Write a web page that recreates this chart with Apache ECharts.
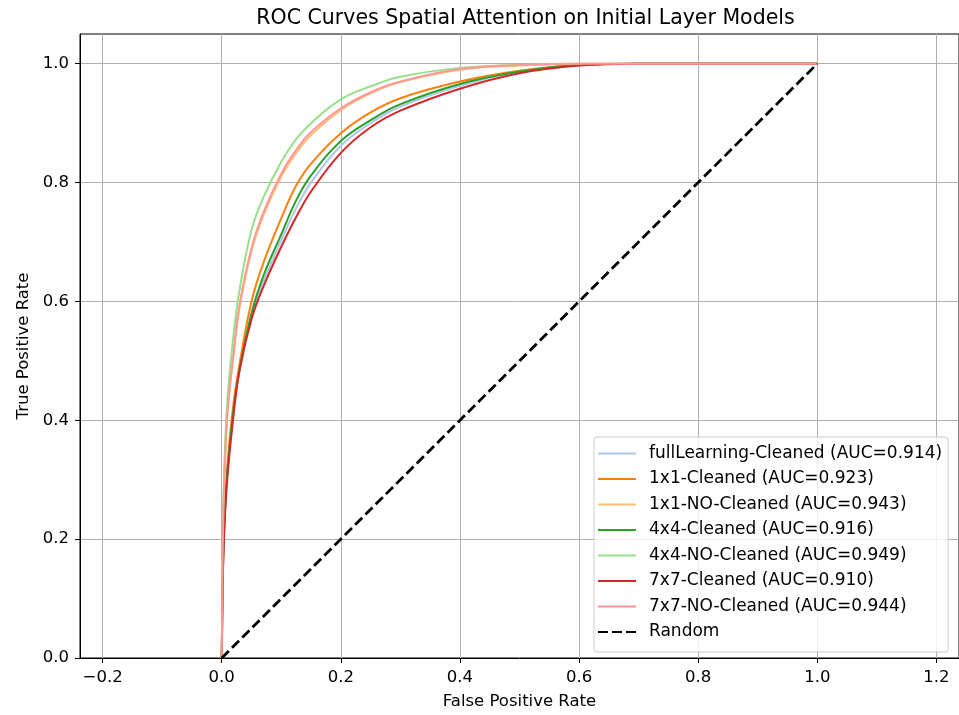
<!DOCTYPE html>
<html>
<head>
<meta charset="utf-8">
<script src="https://cdn.jsdelivr.net/npm/echarts@6/dist/echarts.min.js"></script>
<style>
html,body{margin:0;padding:0;background:#fff;}
#chart{width:959px;height:715px;}
</style>
</head>
<body>
<div id="chart"></div>
<script>
// ---- data ----
const chartTitle = 'ROC Curves Spatial Attention on Initial Layer Models';
const xTicks = [-0.2, 0.0, 0.2, 0.4, 0.6, 0.8, 1.0, 1.2];
const yTicks = [0.0, 0.2, 0.4, 0.6, 0.8, 1.0];
const fprPoints = [0, 0.002, 0.005, 0.01, 0.02, 0.03, 0.05, 0.07, 0.1, 0.125, 0.15, 0.2, 0.25, 0.3, 0.4, 0.5, 0.6, 0.7, 1.0];
const seriesNames = [
  'fullLearning-Cleaned (AUC=0.914)',
  '1x1-Cleaned (AUC=0.923)',
  '1x1-NO-Cleaned (AUC=0.943)',
  '4x4-Cleaned (AUC=0.916)',
  '4x4-NO-Cleaned (AUC=0.949)',
  '7x7-Cleaned (AUC=0.910)',
  '7x7-NO-Cleaned (AUC=0.944)'
];
const tprFullCleaned = [0, 0.15, 0.24, 0.32, 0.42, 0.485, 0.575, 0.633, 0.703, 0.757, 0.80, 0.862, 0.90, 0.928, 0.963, 0.987, 0.998, 1, 1];
const tpr1x1Cleaned  = [0, 0.16, 0.25, 0.33, 0.43, 0.495, 0.60, 0.665, 0.74, 0.795, 0.832, 0.883, 0.918, 0.942, 0.970, 0.988, 0.998, 1, 1];
const tpr1x1NoClean  = [0, 0.20, 0.315, 0.415, 0.51, 0.59, 0.685, 0.745, 0.81, 0.85, 0.88, 0.922, 0.95, 0.969, 0.990, 0.997, 1, 1, 1];
const tpr4x4Cleaned  = [0, 0.15, 0.24, 0.32, 0.42, 0.485, 0.58, 0.643, 0.713, 0.77, 0.812, 0.870, 0.905, 0.932, 0.966, 0.987, 0.998, 1, 1];
const tpr4x4NoClean  = [0, 0.22, 0.34, 0.44, 0.545, 0.62, 0.72, 0.775, 0.835, 0.873, 0.90, 0.940, 0.962, 0.978, 0.993, 0.998, 1, 1, 1];
const tpr7x7Cleaned  = [0, 0.14, 0.23, 0.31, 0.41, 0.485, 0.57, 0.625, 0.692, 0.742, 0.785, 0.850, 0.893, 0.921, 0.958, 0.984, 0.997, 1, 1];
const tpr7x7NoClean  = [0, 0.20, 0.32, 0.42, 0.515, 0.595, 0.69, 0.75, 0.815, 0.855, 0.885, 0.925, 0.952, 0.970, 0.991, 0.998, 1, 1, 1];
const randomName = 'Random';
const randomFpr = [0, 1];
const randomTpr = [0, 1];

const seriesColors = ['#aec7e8', '#ff7f0e', '#ffbb78', '#2ca02c', '#98df8a', '#d62728', '#ff9896'];
const tprLists = [tprFullCleaned, tpr1x1Cleaned, tpr1x1NoClean, tpr4x4Cleaned, tpr4x4NoClean, tpr7x7Cleaned, tpr7x7NoClean];

const FONT = 'DejaVu Sans';
const fmt = v => (v < 0 ? '\u2212' : '') + Math.abs(v).toFixed(1);
const SOLID_ICON = 'path://M0,0h38v2h-38z';
const DASH_ICON = 'path://M0,0h10v2h-10zM14,0h10v2h-10zM28,0h10v2h-10z';

const series = tprLists.map((tprs, i) => ({
  name: seriesNames[i],
  type: 'line',
  data: fprPoints.map((f, j) => [f, tprs[j]]),
  symbol: 'none',
  smooth: 0.4,
  lineStyle: { color: seriesColors[i], width: 2 },
  itemStyle: { color: seriesColors[i] },
  z: 3 + i
}));
series.push({
  name: randomName,
  type: 'line',
  data: randomFpr.map((f, j) => [f, randomTpr[j]]),
  symbol: 'none',
  lineStyle: { color: '#000', width: 2.8, type: [10, 4.5] },
  itemStyle: { color: '#000' },
  z: 20
});

const legendData = seriesNames.map(n => ({ name: n, icon: SOLID_ICON }))
  .concat([{ name: randomName, icon: DASH_ICON }]);

const chart = echarts.init(document.getElementById('chart'), null, { renderer: 'canvas' });
chart.setOption({
  animation: false,
  backgroundColor: '#fff',
  title: {
    text: chartTitle,
    left: 520.5,
    textAlign: 'center',
    top: 3,
    textStyle: { fontFamily: FONT, fontSize: 20.5, fontWeight: 'normal', color: '#000' }
  },
  grid: {
    left: 80, top: 34, right: -2, bottom: 54,
    show: true, borderColor: '#000', borderWidth: 1, backgroundColor: 'transparent'
  },
  legend: {
    orient: 'vertical',
    left: 594,
    top: 437,
    padding: [8, 6, 11.5, 4],
    itemWidth: 38,
    itemHeight: 2,
    itemGap: 8.5,
    backgroundColor: 'rgba(255,255,255,0.8)',
    borderColor: '#cccccc',
    borderWidth: 1,
    borderRadius: 3,
    itemStyle: { borderWidth: 0 },
    textStyle: { fontFamily: FONT, fontSize: 17, color: '#000', lineHeight: 17, padding: [0, 0, 0, 8] },
    data: legendData
  },
  xAxis: {
    type: 'value',
    min: -0.238,
    max: 1.238,
    splitNumber: 7,
    name: 'False Positive Rate',
    nameLocation: 'middle',
    nameGap: 35,
    nameTextStyle: { fontFamily: FONT, fontSize: 16.5, color: '#000' },
    axisLine: { show: true, onZero: false, lineStyle: { color: '#000', width: 1 } },
    axisTick: { show: true, length: 5, customValues: xTicks, lineStyle: { color: '#000', width: 1 } },
    axisLabel: { customValues: xTicks, formatter: fmt, fontFamily: FONT, fontSize: 16.5, color: '#000', margin: 11 },
    splitLine: { show: true, lineStyle: { color: '#b0b0b0', width: 1 } }
  },
  yAxis: {
    type: 'value',
    min: 0,
    max: 1.05,
    interval: 0.2,
    name: 'True Positive Rate',
    nameLocation: 'middle',
    nameGap: 47.5,
    nameTextStyle: { fontFamily: FONT, fontSize: 16.5, color: '#000' },
    axisLine: { show: true, onZero: false, lineStyle: { color: '#000', width: 1 } },
    axisTick: { show: true, length: 5, customValues: yTicks, lineStyle: { color: '#000', width: 1 } },
    axisLabel: { customValues: yTicks, formatter: fmt, fontFamily: FONT, fontSize: 16.5, color: '#000', margin: 11 },
    splitLine: { show: true, lineStyle: { color: '#b0b0b0', width: 1 } }
  },
  series: series
});
</script>
</body>
</html>
